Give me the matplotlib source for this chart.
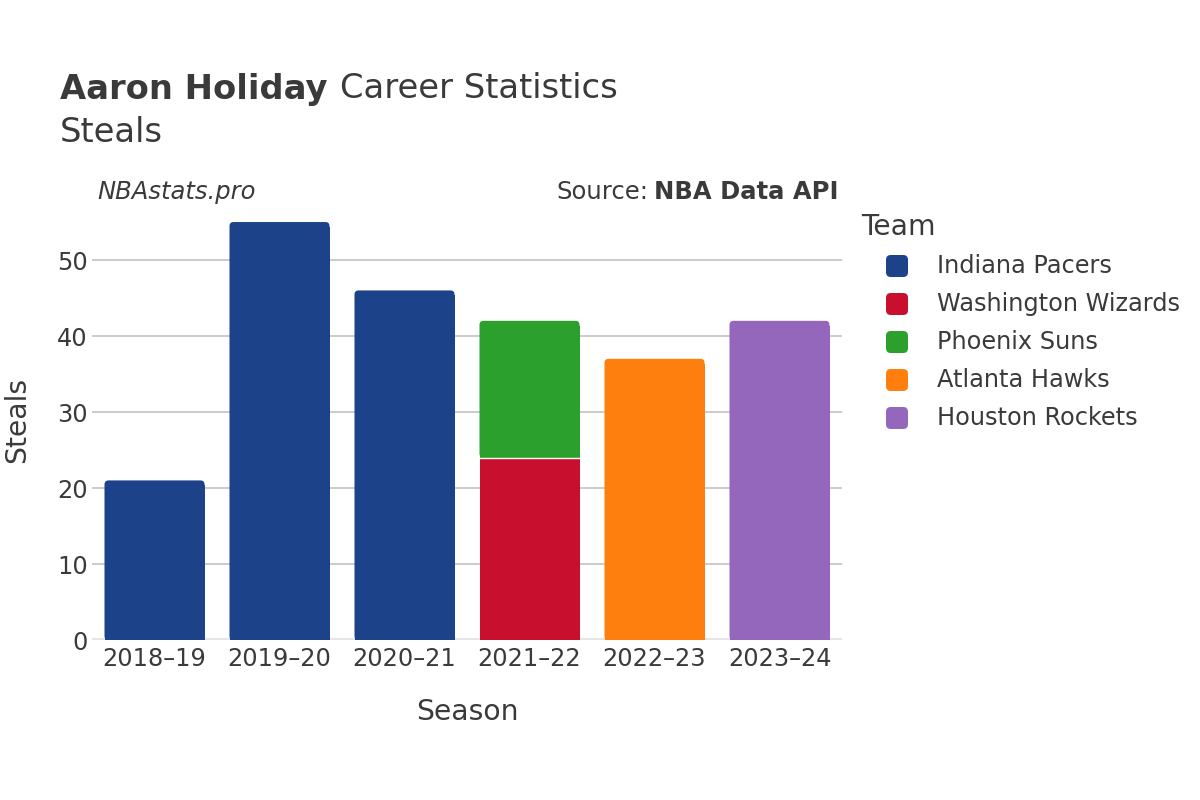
import matplotlib
matplotlib.use("Agg")
import matplotlib.pyplot as plt
from matplotlib.patches import FancyBboxPatch, Rectangle
import numpy as np

plt.rcParams['font.family'] = ['DejaVu Sans']

seasons = ["2018–19", "2019–20", "2020–21", "2021–22", "2022–23", "2023–24"]
teams = ["Indiana Pacers", "Washington Wizards", "Phoenix Suns", "Atlanta Hawks", "Houston Rockets"]
colors = ["#1c4289", "#c8102e", "#2ca02c", "#ff7f0e", "#9467bd"]
# steals per team per season (0 = did not play there)
pacers = [21, 55, 46, 0, 0, 0]
wizards = [0, 0, 0, 24, 0, 0]
suns = [0, 0, 0, 18, 0, 0]
hawks = [0, 0, 0, 0, 37, 0]
rockets = [0, 0, 0, 0, 0, 42]
series = [pacers, wizards, suns, hawks, rockets]

TXT = '#3a3a3a'
fig = plt.figure(figsize=(12, 8), dpi=100)
ax = fig.add_axes([92/1200, 1-640/800, 750/1200, 440/800])
ymax = 57.9
ax.set_xlim(-0.5, len(seasons) - 0.5)
ax.set_ylim(0, ymax)

px_x = (len(seasons)) / 750.0
px_y = ymax / 440.0
r_px = 4
width = 0.8

n = len(seasons)
bottoms = np.zeros(n)
tops_total = np.sum(np.array(series), axis=0)
for s, c in zip(series, colors):
    for i in range(n):
        v = s[i]
        if v <= 0:
            continue
        b = bottoms[i]
        x0 = i - width / 2
        is_top = abs(b + v - tops_total[i]) < 1e-9
        if is_top:
            rx = r_px * px_x
            ry = r_px * px_y
            fb = FancyBboxPatch((x0, b), width, v,
                                boxstyle=f"round,pad=0,rounding_size={rx}",
                                mutation_aspect=ry / rx,
                                facecolor=c, edgecolor='none', zorder=3)
            ax.add_patch(fb)
            ax.add_patch(Rectangle((x0, b), width, v - ry * 1.2, facecolor=c,
                                   edgecolor='none', zorder=3))
        else:
            ax.add_patch(Rectangle((x0, b), width, v, facecolor=c,
                                   edgecolor='none', zorder=3))
        if b > 0:
            ax.plot([x0, x0 + width], [b, b], color='white', lw=1.0, zorder=4)
        bottoms[i] += v

ax.set_yticks([0, 10, 20, 30, 40, 50])
ax.grid(axis='y', color='#bdbdbd', lw=1.1, zorder=0)
ax.axhline(0, color='#e6e6e6', lw=3, zorder=2)
for sp in ax.spines.values():
    sp.set_visible(False)
ax.set_xticks(range(n))
ax.set_xticklabels(seasons)
ax.tick_params(axis='both', length=0, labelsize=17.3, colors=TXT, pad=5)
ax.tick_params(axis='y', pad=3)

fig.text(17/1200, 1-420/800, "Steals", rotation=90, fontsize=20.3, color=TXT,
         ha='center', va='center')
fig.text(467/1200, 1-712/800, "Season", fontsize=20.3, color=TXT,
         ha='center', va='center')

fig.text(60/1200, 1-89/800, "Aaron Holiday", fontsize=24.3, fontweight='bold',
         color=TXT, ha='left', va='center')
fig.text(340/1200, 1-89/800, "Career Statistics", fontsize=24.3,
         color=TXT, ha='left', va='center')
fig.text(60/1200, 1-133/800, "Steals", fontsize=24.3, color=TXT,
         ha='left', va='center')

fig.text(97/1200, 1-192/800, "NBAstats.pro", fontsize=17.5, style='italic',
         color=TXT, ha='left', va='center')
fig.text(838/1200, 1-192/800, "NBA Data API", fontsize=17.5, fontweight='bold',
         color=TXT, ha='right', va='center')
fig.text(648/1200, 1-192/800, "Source:", fontsize=17.5,
         color=TXT, ha='right', va='center')

fig.text(861/1200, 1-227/800, "Team", fontsize=20.3, color=TXT,
         ha='left', va='center')
for k, (t, c) in enumerate(zip(teams, colors)):
    yc = 266 + 38 * k
    fig.patches.append(FancyBboxPatch(((886)/1200, 1-(yc+11)/800), 22/1200, 22/800,
                                      boxstyle="round,pad=0,rounding_size=0.004",
                                      mutation_aspect=1.5,
                                      transform=fig.transFigure,
                                      facecolor=c, edgecolor='none'))
    fig.text(937/1200, 1-yc/800, t, fontsize=17.3, color=TXT,
             ha='left', va='center')

fig.savefig("out.png", dpi=100)
